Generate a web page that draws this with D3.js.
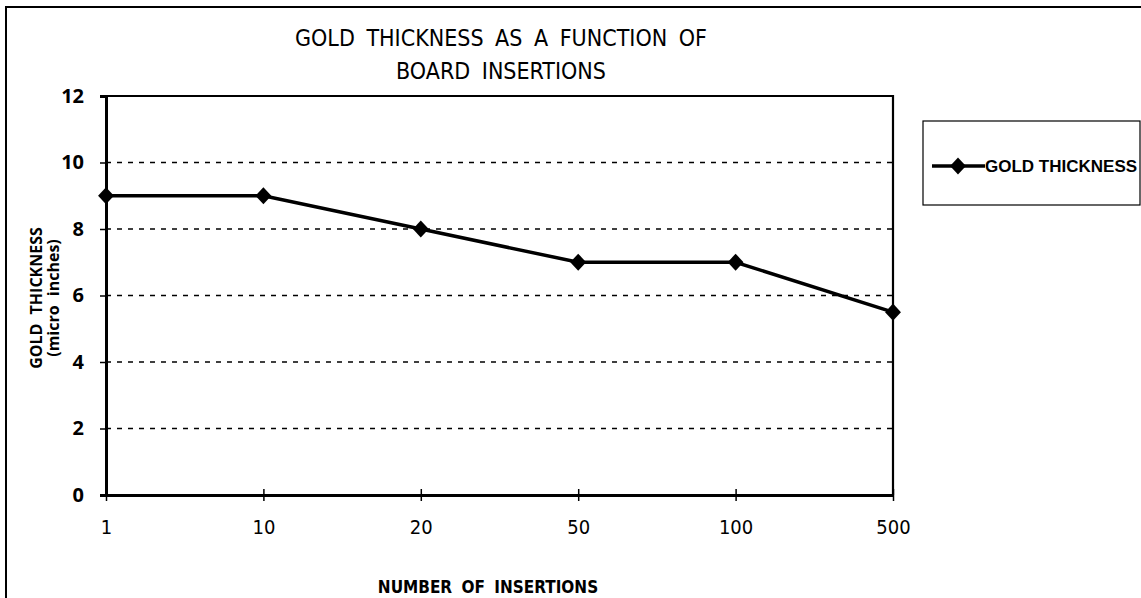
<!DOCTYPE html>
<html><head><meta charset="utf-8">
<script src="https://cdn.jsdelivr.net/npm/d3@7"></script>
<style>body{margin:0;background:#fff}svg{display:block}</style>
</head><body>
<svg id="c" width="1141" height="598"></svg>
<script>
const categories = ["1","10","20","50","100","500"];
const goldThickness = [9, 9, 8, 7, 7, 5.5];
const yTicks = [0,2,4,6,8,10,12];
const titleLines = ["GOLD THICKNESS AS A FUNCTION OF", "BOARD INSERTIONS"];
const yTitleLines = ["GOLD THICKNESS", "(micro inches)"];
const xTitle = "NUMBER OF INSERTIONS";
const seriesName = "GOLD THICKNESS";

const svg = d3.select("#c");
const L = 106, R = 893, T = 96, B = 495;
const x = d3.scalePoint().domain(categories).range([L, R]);
const y = d3.scaleLinear().domain([0,12]).range([B, T]);

// outer frame
svg.append("path").attr("d","M6,600 V7 H1141").attr("fill","none").attr("stroke","#000").attr("stroke-width",2);

// title
const tf = "'Liberation Sans Narrow','DejaVu Sans Condensed','Arial Narrow',sans-serif";
svg.selectAll(".title").data(titleLines).join("text")
  .attr("x", 501).attr("y",(d,i)=>46+i*33).attr("text-anchor","middle")
  .attr("font-family",tf).attr("font-size",23).attr("word-spacing",5)
  .text(d=>d);

// gridlines
svg.append("g").selectAll("line").data(yTicks.filter(d=>d>0 && d<12)).join("line")
  .attr("x1",L).attr("x2",R).attr("y1",d=>y(d)).attr("y2",d=>y(d))
  .attr("stroke","#000").attr("stroke-width",1.5).attr("stroke-dasharray","5,6");

// plot frame top/right
svg.append("path").attr("d",`M${L},${T} H${R} V${B}`).attr("fill","none").attr("stroke","#000").attr("stroke-width",2.2);

// y axis
const yAxis = svg.append("g").attr("transform",`translate(${L},0)`)
  .call(d3.axisLeft(y).tickValues(yTicks).tickSize(6).tickPadding(16).tickFormat(d3.format("d")));
yAxis.select(".domain").attr("stroke-width",3);
yAxis.selectAll(".tick line").attr("stroke-width",1.5);
yAxis.selectAll("text").attr("font-family","'Open Sans',sans-serif").attr("font-size",20).attr("font-weight","bold").attr("fill","#000");

// x axis
const xAxis = svg.append("g").attr("transform",`translate(0,${B})`)
  .call(d3.axisBottom(x).tickSizeInner(5).tickSizeOuter(0).tickPadding(20));
xAxis.select(".domain").attr("stroke-width",3);
xAxis.selectAll(".tick line").attr("y1",-6).attr("y2",6).attr("stroke-width",1.5);
xAxis.selectAll("text").attr("font-family",tf).attr("font-size",20).attr("fill","#000");

// axis titles
svg.selectAll(".yt").data(yTitleLines).join("text")
  .attr("transform",(d,i)=>`translate(${42+i*17},298) rotate(-90)`)
  .attr("text-anchor","middle").attr("font-family","'Open Sans',sans-serif")
  .attr("font-size",16).attr("font-weight","bold").attr("word-spacing",5).text(d=>d);
svg.append("text").attr("x",488).attr("y",593).attr("text-anchor","middle")
  .attr("font-family",tf).attr("font-size",17).attr("font-weight","bold").attr("word-spacing",4).text(xTitle);

// series
const pts = categories.map((c,i)=>[x(c), y(goldThickness[i])]);
svg.append("path").attr("d",d3.line()(pts)).attr("fill","none").attr("stroke","#000").attr("stroke-width",3.5);
const diamond = d3.symbol().type(d3.symbolDiamond).size(85);
svg.selectAll(".m").data(pts).join("path").attr("d",diamond)
  .attr("transform",d=>`translate(${d[0]},${d[1]}) scale(1.6,1)`).attr("fill","#000");

// legend
svg.append("rect").attr("x",923).attr("y",121).attr("width",217).attr("height",84)
  .attr("fill","#fff").attr("stroke","#000").attr("stroke-width",1.2);
svg.append("line").attr("x1",932).attr("x2",985).attr("y1",166).attr("y2",166).attr("stroke","#000").attr("stroke-width",3.5);
svg.append("path").attr("d",diamond).attr("transform","translate(958,166) scale(1.6,1)").attr("fill","#000");
svg.append("text").attr("x",985).attr("y",172).attr("font-family","'Liberation Sans Narrow','Arial Narrow',sans-serif")
  .attr("font-size",17).attr("font-weight","bold").attr("fill","#000").text(seriesName);
</script>
</body></html>
